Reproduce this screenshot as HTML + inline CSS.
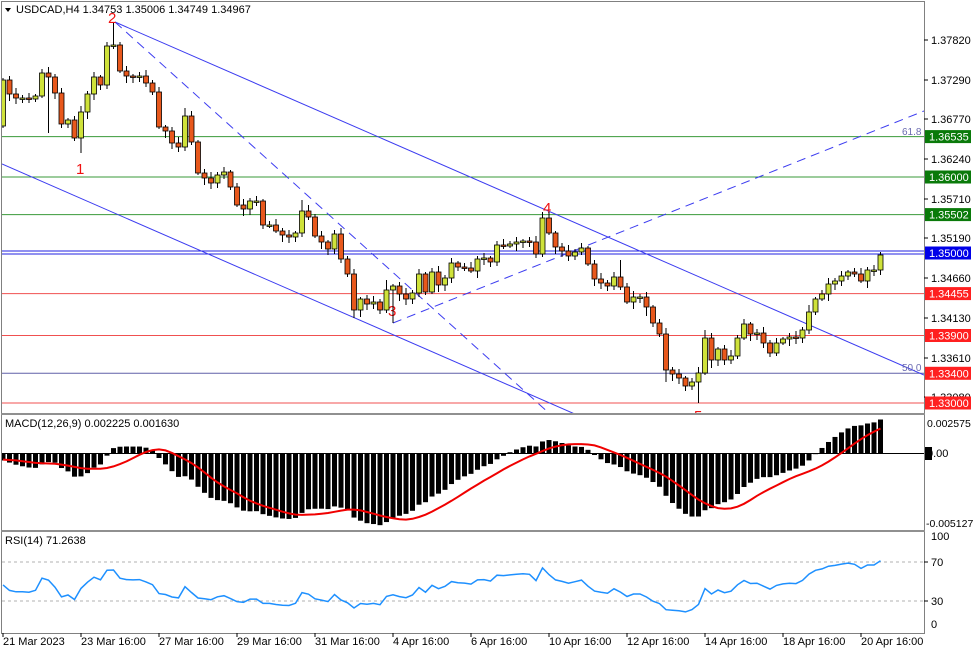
<!DOCTYPE html>
<html><head><meta charset="utf-8"><style>
html,body{margin:0;padding:0;background:#fff;}
svg{display:block;font-family:"Liberation Sans",Tahoma,sans-serif;}
</style></head><body>
<svg id="s" width="975" height="650" xmlns="http://www.w3.org/2000/svg">
<rect x="0" y="0" width="975" height="650" fill="#fff"/>
<defs><clipPath id="cm"><rect x="2" y="2" width="922" height="411"/></clipPath>
<clipPath id="cd"><rect x="2" y="415" width="922" height="115"/></clipPath>
<clipPath id="cr"><rect x="2" y="532" width="922" height="100"/></clipPath></defs>
<g id="main" clip-path="url(#cm)">
<line x1="2" x2="924" y1="136.6" y2="136.6" stroke="#3a9a3a"/>
<line x1="2" x2="924" y1="177" y2="177" stroke="#3a9a3a"/>
<line x1="2" x2="924" y1="214.6" y2="214.6" stroke="#3a9a3a"/>
<line x1="2" x2="924" y1="251" y2="251" stroke="#2020e0"/>
<line x1="2" x2="924" y1="254" y2="254" stroke="#2020e0"/>
<line x1="2" x2="924" y1="293.6" y2="293.6" stroke="#f05050"/>
<line x1="2" x2="924" y1="335.5" y2="335.5" stroke="#f05050"/>
<line x1="2" x2="924" y1="373.3" y2="373.3" stroke="#6060a8"/>
<line x1="2" x2="924" y1="403" y2="403" stroke="#f05050"/>
<line x1="115" y1="22" x2="924" y2="375" stroke="#3c3cf0"/>
<line x1="2" y1="164" x2="600" y2="425" stroke="#3c3cf0"/>
<line x1="115" y1="22" x2="560" y2="423" stroke="#3c3cf0" stroke-dasharray="9,6"/>
<line x1="393" y1="323" x2="924" y2="111" stroke="#3c3cf0" stroke-dasharray="9,6"/>
<text x="902" y="135" font-size="10" fill="#6a6ab0">61.8</text>
<text x="902" y="371" font-size="10" fill="#6a6ab0">50.0</text>
<g font-size="15" fill="#f01010" font-family="Liberation Sans,sans-serif">
<text x="76" y="174">1</text><text x="108" y="23">2</text><text x="388" y="316">3</text><text x="543" y="213">4</text><text x="694" y="421">5</text></g>
</g>
<g id="cnd" clip-path="url(#cm)"></g>
<g id="macd" clip-path="url(#cd)"></g>
<g id="rsi" clip-path="url(#cr)"><line x1="2" x2="924" y1="562" y2="562" stroke="#b0b0b0" stroke-dasharray="3,3"/><line x1="2" x2="924" y1="601" y2="601" stroke="#b0b0b0" stroke-dasharray="3,3"/></g>
<line x1="1.5" y1="2" x2="1.5" y2="633" stroke="#808080"/>
<line x1="924.5" y1="2" x2="924.5" y2="633" stroke="#808080"/>
<line x1="1" y1="1.5" x2="925" y2="1.5" stroke="#808080"/>
<rect x="1" y="413" width="924" height="2" fill="#909090"/>
<rect x="1" y="530" width="924" height="2" fill="#909090"/>
<line x1="1" y1="633.5" x2="925" y2="633.5" stroke="#808080"/>
<g font-size="11" fill="#000">
<path d="M5 8 L11 8 L8 12 Z" fill="#000"/>
<text x="16" y="13">USDCAD,H4  1.34753 1.35006 1.34749 1.34967</text>
<text x="5" y="427">MACD(12,26,9) 0.002225 0.001630</text>
<text x="5" y="544">RSI(14) 71.2638</text>
</g>
<g id="ax" font-size="11" fill="#000"></g>
</svg>
<script>
(function(){
var NS="http://www.w3.org/2000/svg";
function el(p,t,a,txt){var e=document.createElementNS(NS,t);for(var k in a)e.setAttribute(k,a[k]);if(txt!=null)e.textContent=txt;p.appendChild(e);return e;}
var C=[80,94,98,98,99,96,73,77,93,124,120,138,112,94,77,85,46,45,71,76,77,76,83,92,127,131,143,147,116,142,173,178,183,175,172,187,205,209,201,201,225,225,231,235,237,233,211,217,236,242,249,234,259,274,310,299,304,302,310,290,286,294,299,293,274,292,272,285,278,263,267,268,271,259,258,262,245,246,244,242,241,242,254,218,233,247,251,256,252,248,264,279,283,286,277,287,302,297,297,307,323,334,370,374,378,386,382,373,338,360,349,360,356,338,324,334,333,343,353,343,339,337,338,330,312,299,294,284,281,276,272,274,281,270,270,255];
var HI={17:23,84:212,95:260,135:252,28:108,46:200,59:280,83:212,124:305,108:330};
var LO={7:133,12:153,60:323,107:403,9:128,54:318,102:382,109:368,99:316};
var g=document.getElementById('cnd');
for(var i=0;i<C.length;i++){
 var x=3+i*6.5, o=(i==0)?126:C[i-1], c=C[i];
 var tp=Math.min(o,c), bt=Math.max(o,c);
 var h=(HI[i]!==undefined)?HI[i]:tp-2-((i*7)%5);
 var l=(LO[i]!==undefined)?LO[i]:bt+2+((i*11)%6);
 el(g,'line',{x1:x,x2:x,y1:h,y2:l,stroke:'#000'});
 if(bt-tp<1.5){bt=tp+1.5;}
 el(g,'rect',{x:x-2.5,y:tp,width:5,height:bt-tp,fill:c<=o?'#cfe23a':'#e8581c',stroke:'#000','stroke-width':0.8});
}
var P=[];for(var k=0;k<40;k++)P.push(60+k*0.5+((k%2)?4:-4));P=P.concat(C);
function ema(a,n){var r=[],m=2/(n+1),v=a[0];for(var j=0;j<a.length;j++){v=j?a[j]*m+v*(1-m):a[0];r.push(v);}return r;}
var e12=ema(P,12),e26=ema(P,26),M=[];for(var j=0;j<P.length;j++)M.push(1.978*(e12[j]-e26[j]));
var S=[];for(var j=0;j<P.length;j++){var s=0,n=0;for(var q=Math.max(0,j-8);q<=j;q++){s+=M[q];n++;}S.push(s/n);}
var gm=document.getElementById('macd');
el(gm,'line',{x1:2,x2:924,y1:453.5,y2:453.5,stroke:'#000'});
var pts=[];
for(var i=0;i<C.length;i++){var v=M[i+40],x=3+i*6.5;var y0=453,y1=453+v;
 el(gm,'rect',{x:x-2.5,y:Math.min(y0,y1),width:5,height:Math.abs(y1-y0)+0.5,fill:'#000'});
 pts.push(x+','+(453+S[i+40]).toFixed(1));}
el(gm,'polyline',{points:pts.join(' '),fill:'none',stroke:'#f00000','stroke-width':2});
var gr=document.getElementById('rsi');var ag=0,al=0,rp=[];
for(var j=1;j<P.length;j++){var d=-(P[j]-P[j-1]);var gg=d>0?d:0,ll=d<0?-d:0;
 if(j<=14){ag+=gg/14;al+=ll/14;}else{ag=(ag*13+gg)/14;al=(al*13+ll)/14;}
 if(j>=40){var r=al==0?100:100-100/(1+ag/al);rp.push((3+(j-40)*6.5)+','+(630-r*0.97).toFixed(1));}}
el(gr,'polyline',{points:rp.join(' '),fill:'none',stroke:'#1e90ff','stroke-width':1.5});
var ax=document.getElementById('ax');
var lab=[["1.37820",40],["1.37290",80],["1.36770",119],["1.36240",159],["1.35710",199],["1.35190",238],["1.34660",278],["1.34130",318],["1.33610",358],["1.33080",397]];
lab.forEach(function(a){el(ax,'line',{x1:924,x2:928,y1:a[1],y2:a[1],stroke:'#000'});el(ax,'text',{x:931,y:a[1]+4},a[0]);});
var bx=[["1.36535",136.6,"#0a7a0a"],["1.36000",177,"#0a7a0a"],["1.35502",214.6,"#0a7a0a"],["1.35000",253,"#0000e8"],["1.34455",293.6,"#ff2020"],["1.33900",335.5,"#ff2020"],["1.33400",373.3,"#ff2020"],["1.33000",403,"#ff2020"]];
bx.forEach(function(a){el(ax,'rect',{x:925,y:a[1]-6.5,width:46,height:13,fill:a[2]});el(ax,'text',{x:929,y:a[1]+4,fill:'#fff'},a[0]);});
el(ax,'text',{x:927,y:427,'font-size':10.5},"0.002575");
el(ax,'rect',{x:925,y:447,width:7,height:13,fill:'#000'});
el(ax,'text',{x:927,y:457},"0.00");
el(ax,'text',{x:926,y:527,'font-size':10.5},"-0.005127");
[["100",540],["70",566],["30",605],["0",628]].forEach(function(a){el(ax,'text',{x:931,y:a[1]},a[0]);});
[562,601].forEach(function(y){el(ax,'line',{x1:924,x2:928,y1:y,y2:y,stroke:'#000'});});
var dd=["21 Mar 2023","23 Mar 16:00","27 Mar 16:00","29 Mar 16:00","31 Mar 16:00","4 Apr 16:00","6 Apr 16:00","10 Apr 16:00","12 Apr 16:00","14 Apr 16:00","18 Apr 16:00","20 Apr 16:00"];
dd.forEach(function(t,k){var x=3+k*78;el(ax,'line',{x1:x,x2:x,y1:633,y2:637,stroke:'#000'});el(ax,'text',{x:x,y:645},t);});
})();
</script>
</body></html>
